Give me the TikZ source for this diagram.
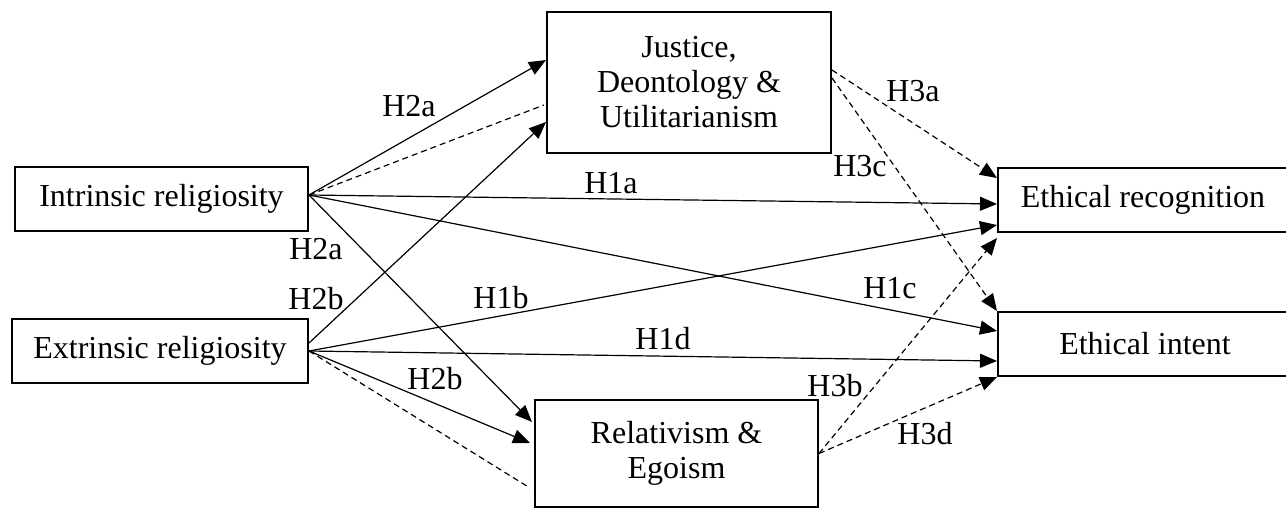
\documentclass[tikz,border=0pt]{standalone}
\usepackage{fontspec}
\setmainfont{Liberation Serif}
\usetikzlibrary{arrows.meta,calc}
\begin{document}
\begin{tikzpicture}[x=0.5pt,y=-0.5pt,
  box/.style={draw,line width=1pt,inner sep=0pt,align=center,font=\fontsize{16}{17.5}\selectfont},
  lbl/.style={inner sep=0pt,font=\fontsize{16}{17.5}\selectfont},
  link/.style={line width=0.6pt,-{Triangle[length=8.5pt,width=7pt]}},
  dlink/.style={line width=0.6pt,dash pattern=on 3pt off 2pt,-{Triangle[length=8.5pt,width=7pt]}},
  dline/.style={line width=0.6pt,dash pattern=on 3pt off 2pt}]
\useasboundingbox (0,0) rectangle (1286,508);
\clip (0,0) rectangle (1286,508);
% boxes
\node[box,minimum width=146.5pt,minimum height=32pt] (intr) at (161.5,199) {Intrinsic religiosity};
\node[box,minimum width=148pt,minimum height=32pt] (extr) at (160,351) {Extrinsic religiosity};
\node[box,minimum width=142pt,minimum height=70.5pt] (just) at (689,82.5) {Justice,\\Deontology \&\\Utilitarianism};
\node[box,minimum width=141.5pt,minimum height=53.5pt] (rel) at (676.5,453.5) {Relativism \&\\Egoism};
\node[box,minimum width=145pt,minimum height=32pt] (rec) at (1143,200) {Ethical recognition};
\node[box,minimum width=147pt,minimum height=32pt] (int) at (1145,344) {Ethical intent};
% connectors
\draw[link] ([yshift=2pt]intr.east) -- ([yshift=11.25pt]just.west);
\draw[dline] ([yshift=2pt]intr.east) -- ([yshift=-11.25pt,xshift=-1pt]just.west);
\draw[link] ([yshift=4pt]extr.east) -- ([yshift=-19.75pt]just.west);
\draw[link] ([yshift=2pt]intr.east) -- ([yshift=-2pt]rec.west);
\draw[link] ([yshift=2pt]intr.east) -- ([yshift=6.5pt]int.west);
\draw[link] ([yshift=2pt]intr.east) -- ([yshift=15.75pt,xshift=-1pt]rel.west);
\draw[link] (extr.east) -- ([yshift=-12.5pt]rec.west);
\draw[link] (extr.east) -- ([yshift=-8.5pt]int.west);
\draw[link] (extr.east) -- ([yshift=5.25pt,xshift=-2pt]rel.west);
\draw[dline] (extr.east) -- ([yshift=-17.25pt,xshift=-2pt]rel.west);
\draw[dlink] ([yshift=6.25pt]just.east) -- ([yshift=11pt]rec.west);
\draw[dlink] ([yshift=2.25pt]just.east) -- (int.north west);
\draw[dlink] (rel.east) -- ([yshift=-19pt]rec.west);
\draw[dlink] (rel.east) -- (int.south west);
% labels
\node[lbl] (l1) at (409,106) {H2a};
\node[lbl] (l2) at (316,249) {H2a};
\node[lbl] (l3) at (316,299) {H2b};
\node[lbl] (l4) at (435,379) {H2b};
\node[lbl] (l5) at (611,183) {H1a};
\node[lbl] (l6) at (501,298) {H1b};
\node[lbl] (l7) at (890,288) {H1c};
\node[lbl] (l8) at (663,339) {H1d};
\node[lbl] (l9) at (913,91) {H3a};
\node[lbl] (l10) at (860,166) {H3c};
\node[lbl] (l11) at (835,386) {H3b};
\node[lbl] (l12) at (925,434) {H3d};
\end{tikzpicture}
\end{document}
